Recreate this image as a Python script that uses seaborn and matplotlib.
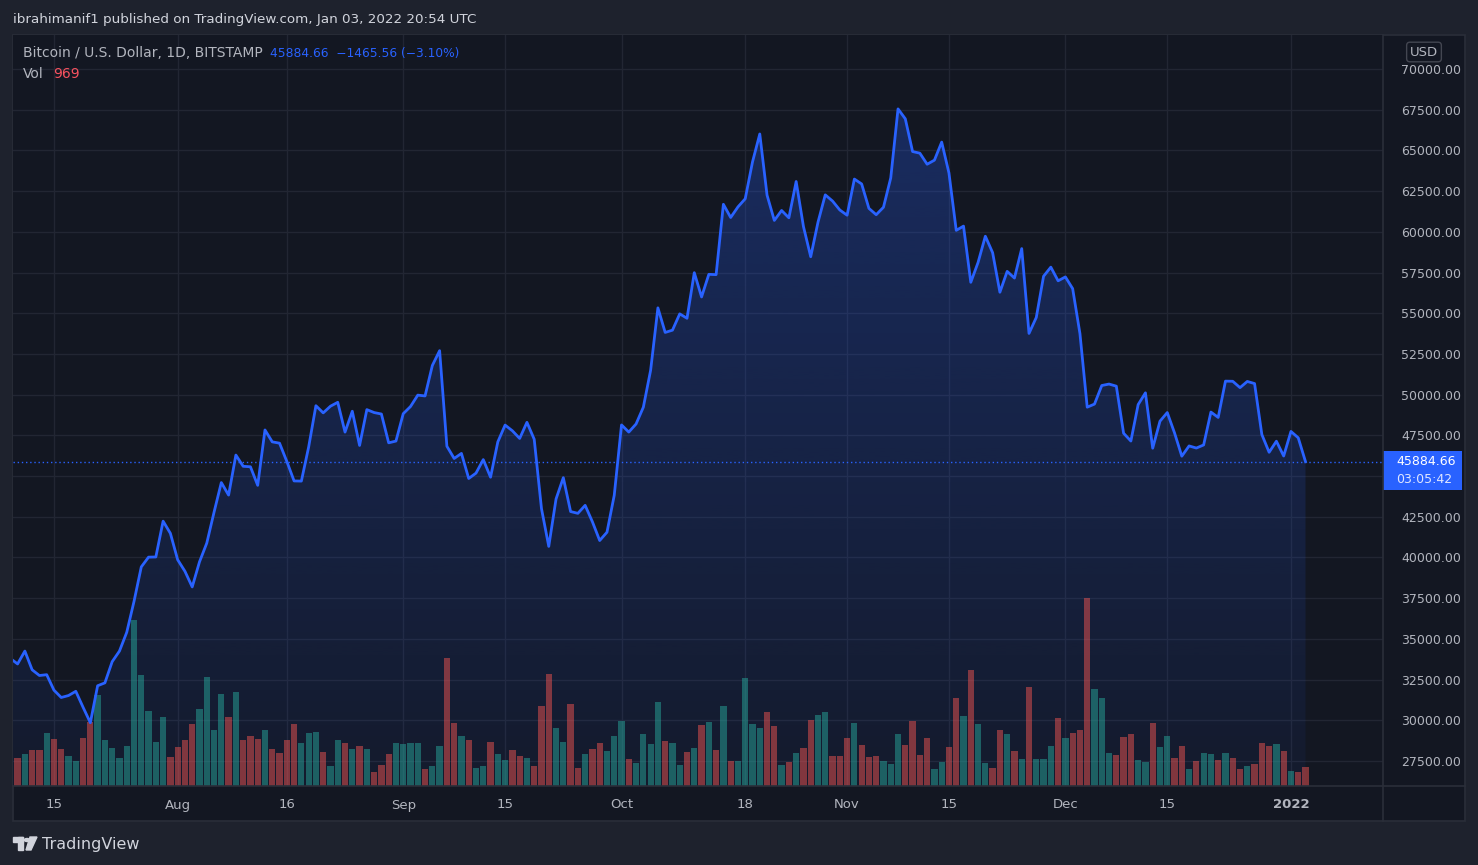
import numpy as np
import pandas as pd
import matplotlib
matplotlib.use("Agg")
import matplotlib.pyplot as plt
import matplotlib.transforms as mtransforms
from matplotlib.patches import Rectangle, Circle, Polygon
import seaborn as sns

# daily BTC/USD closes, Bitstamp, 9 Jul 2021 - 3 Jan 2022
dates = pd.date_range("2021-07-09", "2022-01-03", freq="D")
close = [
    33800, 33460, 34250, 33100, 32750, 32800, 31850, 31400, 31520, 31780, 30800, 29850,
    32120, 32300, 33600, 34250, 35400, 37300, 39420, 40020, 40030, 42230, 41480,
    39860, 39150, 38190, 39730, 40880, 42780, 44600, 43830, 46290, 45600, 45570, 44430,
    47830, 47100, 47020, 45900, 44700, 44690, 46780, 49320, 48880, 49290, 49530, 47700,
    48980, 46880, 49080, 48900, 48810, 47040, 47150,
    48830, 49270, 49970, 49920, 51790, 52700, 46830, 46080, 46390, 44850, 45180, 46010,
    44930, 47100, 48130, 47780, 47310, 48300, 47260, 43000, 40680, 43590, 44900, 42820,
    42710, 43200, 42190, 41040, 41550, 43820,
    48140, 47700, 48200, 49230, 51500, 55330, 53820, 53960, 54960, 54690, 57490, 56000,
    57390, 57370, 61690, 60880, 61530, 62030, 64290, 66010, 62250, 60700, 61310, 60860,
    63090, 60330, 58470, 60590, 62270, 61890, 61340,
    61020, 63240, 62940, 61440, 61050, 61510, 63310, 67550, 66940, 64930, 64830, 64150,
    64400, 65510, 63610, 60090, 60350, 56900, 58120, 59730, 58720, 56290, 57570, 57160,
    58970, 53760, 54740, 57270, 57830, 56990,
    57230, 56510, 53750, 49230, 49420, 50560, 50650, 50520, 47630, 47150, 49390, 50110,
    46710, 48370, 48900, 47650, 46220, 46850, 46720, 46910, 48930, 48600, 50830, 50820,
    50430, 50810, 50680, 47550, 46460, 47140, 46230,
    47740, 47350, 45884.66,
]
volume = [
    1615, 1428, 1632, 1836, 1836, 2703, 2397, 1887, 1530, 1275, 2448, 3264,
    4641, 2346, 1938, 1428, 2040, 8466, 5661, 3825, 2244, 3519, 1479,
    1989, 2346, 3162, 3927, 5559, 2856, 4692, 3519, 4794, 2346, 2550, 2397,
    2856, 1887, 1683, 2346, 3162, 2193, 2703, 2754, 1734, 1020, 2346, 2193,
    1887, 2040, 1887, 714, 1071, 1632, 2193,
    2142, 2193, 2193, 867, 1020, 2040, 6528, 3213, 2550, 2346, 918, 1020,
    2244, 1632, 1326, 1836, 1530, 1428, 1020, 4080, 5712, 2958, 2244, 4182,
    918, 1632, 1887, 2193, 1785, 2550,
    3315, 1377, 1173, 2652, 2142, 4284, 2295, 2193, 1071, 1734, 1938, 3111,
    3264, 1836, 4080, 1275, 1275, 5508, 3162, 2958, 3774, 3060, 1071, 1224,
    1683, 1938, 3366, 3621, 3774, 1530, 1530,
    2448, 3213, 2091, 1479, 1530, 1275, 1122, 2652, 2091, 3315, 1581, 2448,
    867, 1224, 1989, 4488, 3570, 5916, 3162, 1173, 918, 2856, 2652, 1785,
    1377, 5049, 1377, 1377, 2040, 3468,
    2448, 2703, 2856, 9588, 4947, 4488, 1683, 1581, 2499, 2652, 1326, 1224,
    3213, 1989, 2550, 1428, 2040, 867, 1275, 1683, 1632, 1326, 1683, 1428,
    867, 1020, 1122, 2193, 2040, 2142, 1785,
    765, 714, 969,
]
# candle direction of each volume bar (G = up day, R = down day)
vol_dir = ("GRGRRGRRGGRRGGGGGGGGGGR"
           "RRRGGGGRGRRRGRRRRGGGRGGRGRGRRRG"
           "GGGRGGRRGRGGRGGRRGRRRGGRRGRRGG"
           "GRGGGGRGGRGRGRGRGGGGRRGRGRRGGRR"
           "RGRRRGGGRRRRGGRRGRGGRRGRGRGGGR"
           "GRRRGGGRRRGGRGGRRGRGGRGRRGRRRGR"
           "GRR")

tick_dates = ["2021-07-15", "2021-08-01", "2021-08-16", "2021-09-01", "2021-09-15",
              "2021-10-01", "2021-10-18", "2021-11-01", "2021-11-15", "2021-12-01",
              "2021-12-15", "2022-01-01"]
tick_labels = ["15", "Aug", "16", "Sep", "15", "Oct", "18", "Nov", "15", "Dec", "15", "2022"]
price_ticks = list(range(27500, 70001, 2500))

df = pd.DataFrame({"day": np.arange(len(dates)), "close": close,
                   "volume": volume, "dir": list(vol_dir)})
last = close[-1]

BG = "#131722"
PAGE = "#1e222d"
GRID = "#222633"
TXT = "#b2b5be"
BLUE = "#2962ff"

W, H = 1478, 865
fig = plt.figure(figsize=(W / 100, H / 100), dpi=100, facecolor=PAGE)

# chart frame (behind the axes)
fig.patches.append(Rectangle((13 / W, 1 - 821 / H), 1452 / W, 786 / H, transform=fig.transFigure,
                             facecolor=BG, edgecolor="#2a2e39", lw=1.2, zorder=-5))
fig.add_artist(plt.Line2D([1383 / W, 1383 / W], [1 - 821 / H, 1 - 35 / H], color="#2a2e39", lw=1.2))
fig.add_artist(plt.Line2D([13 / W, 1465 / W], [1 - 786 / H, 1 - 786 / H], color="#2a2e39", lw=1.2))

rect = [13 / W, 1 - 786 / H, 1370 / W, 751 / H]
ax = fig.add_axes(rect)
ax.set_facecolor(BG)
axv = ax.twinx()
axl = ax.twinx()

x0, x1 = 0.37, 188.65
ylo, yhi = 25964, 72088

# gradient area under the line
poly = ax.fill_between(df["day"], df["close"], ylo, color="none", lw=0)
grad = np.zeros((256, 1, 4))
grad[..., 0], grad[..., 1], grad[..., 2] = 41 / 255, 98 / 255, 1.0
grad[:, 0, 3] = np.linspace(0.05, 0.28, 256)
img = ax.imshow(grad, extent=[df["day"].min(), df["day"].max(), ylo, max(close)],
                origin="lower", aspect="auto", zorder=1)
img.set_clip_path(poly.get_paths()[0], transform=ax.transData)

ax.set_xlim(x0, x1)
ax.set_ylim(ylo, yhi)
tick_pos = [(pd.Timestamp(t) - dates[0]).days for t in tick_dates]
ax.set_xticks(tick_pos)
ax.set_xticklabels(tick_labels)
ax.set_yticks(price_ticks)
ax.tick_params(axis="y", left=False, labelleft=False)
ax.tick_params(axis="x", length=0, pad=9, labelsize=9.5, colors=TXT)
ax.get_xticklabels()[-1].set_fontweight("bold")
ax.grid(True, color=GRID, lw=1)
ax.set_axisbelow(True)

# volume bars
sns.barplot(data=df, x="day", y="volume", hue="dir", native_scale=True,
            palette={"G": "#26a69a", "R": "#ef5350"}, width=0.86, errorbar=None,
            saturation=1, alpha=0.5, linewidth=0, legend=False, ax=axv)
axv.set_xlim(x0, x1)
axv.set_ylim(0, 751 * 51)
axv.set_yticks([])
axv.set_xlabel("")
axv.set_ylabel("")

# price line
sns.lineplot(data=df, x="day", y="close", color=BLUE, lw=2.0, ax=axl, zorder=5)
axl.axhline(last, color=BLUE, lw=1, ls=(0, (1, 2)))
axl.set_xlim(x0, x1)
axl.set_ylim(ylo, yhi)
# the scale label hidden behind the last-price box is left out
scale_ticks = [p for p in price_ticks if abs(p - last) > 1000]
axl.set_yticks(scale_ticks)
axl.set_yticklabels([f"{p:.2f}" for p in scale_ticks])
axl.tick_params(axis="y", length=0, pad=13, labelsize=9, colors=TXT)
axl.set_xlabel("")
axl.set_ylabel("")

for a in (ax, axv, axl):
    for s in a.spines.values():
        s.set_visible(False)
axv.patch.set_visible(False)
axl.patch.set_visible(False)

# last price label on the scale
tr = mtransforms.blended_transform_factory(axl.transAxes, axl.transData)
box_tr = mtransforms.offset_copy(tr, fig=fig, y=-28, units="dots")
box = Rectangle((1.0, last), 0.0577, 39 / 0.016282, transform=box_tr, clip_on=False,
                facecolor=BLUE, edgecolor="none", zorder=6)
axl.add_patch(box)
axl.text(1.0095, last, f"{last:.2f}", transform=tr, color="white", fontsize=9,
         va="center", ha="left", clip_on=False, zorder=7)
axl.text(1.0095, last, "03:05:42", color="#dfe6ff", fontsize=9, va="center", ha="left",
         transform=mtransforms.offset_copy(tr, fig=fig, y=-18, units="dots"),
         clip_on=False, zorder=7)

# header and legend texts
fig.text(13 / W, 1 - 19 / H, "ibrahimanif1 published on TradingView.com, Jan 03, 2022 20:54 UTC",
         color="#d1d4dc", fontsize=9.7, va="center", ha="left")
fig.text(23 / W, 1 - 53 / H, "Bitcoin / U.S. Dollar, 1D, BITSTAMP", color=TXT,
         fontsize=10, va="center", ha="left")
fig.text(270 / W, 1 - 53 / H, "45884.66  \u22121465.56 (\u22123.10%)", color=BLUE,
         fontsize=8.8, va="center", ha="left")
fig.text(23 / W, 1 - 74 / H, "Vol", color=TXT, fontsize=10, va="center", ha="left")
fig.text(53 / W, 1 - 74 / H, "969", color="#f7525f", fontsize=10, va="center", ha="left")
fig.text(1424 / W, 1 - 52 / H, "USD", color=TXT, fontsize=9.5, va="center", ha="center",
         bbox=dict(boxstyle="round,pad=0.25", facecolor=BG, edgecolor="#434651", lw=1))

# TradingView logo
lc = "#d1d4dc"
fig.patches.append(Rectangle((13 / W, 1 - 842 / H), 10 / W, 5 / H, transform=fig.transFigure, color=lc))
fig.patches.append(Rectangle((18 / W, 1 - 850 / H), 5 / W, 13 / H, transform=fig.transFigure, color=lc))
fig.patches.append(Circle((27 / W, 1 - 840 / H), 2.6 / W, transform=fig.transFigure, color=lc))
fig.patches.append(Polygon([(30 / W, 1 - 837 / H), (37 / W, 1 - 837 / H), (31 / W, 1 - 850 / H),
                            (26 / W, 1 - 850 / H)], closed=True, transform=fig.transFigure, color=lc))
fig.text(42 / W, 1 - 844 / H, "TradingView", color=lc, fontsize=11.5, va="center", ha="left")

fig.savefig("out.png", dpi=100, facecolor=PAGE)
